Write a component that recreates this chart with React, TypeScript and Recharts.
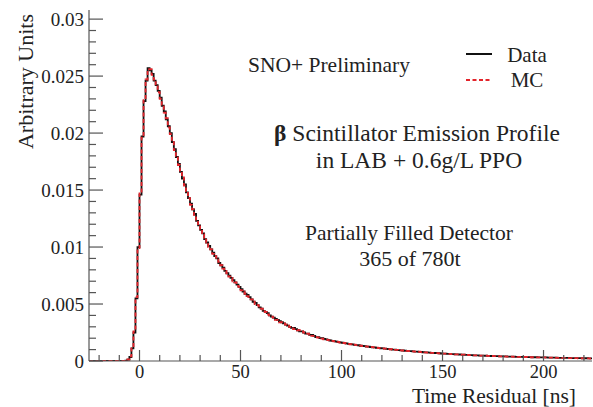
import { ComposedChart, Line, XAxis, YAxis } from 'recharts';

// histogram, 1 ns bins, first bin starts at -25 ns
const BIN_START = -25;

const DATA = [
  0, 0, 0, 0, 0, 0, 0, 0, 0, 0, // -25..-16
  0, 0, 0, 0, 0, 0, 0, 0, 0.00004, 0.00012, // -15..-6
  0.00035, 0.0011, 0.0025, 0.0055, 0.01, 0.0146, 0.0197, 0.0228, 0.0246, 0.0257, // -5..4
  0.0255, 0.0252, 0.0246, 0.0242, 0.0237, 0.0231, 0.0224, 0.0219, 0.0212, 0.0206, // 5..14
  0.02, 0.0192, 0.0186, 0.0179, 0.0173, 0.0166, 0.016, 0.0155, 0.0148, 0.0143, // 15..24
  0.0138, 0.0133, 0.0129, 0.0123, 0.0119, 0.0115, 0.0112, 0.0107, 0.0104, 0.0101, // 25..34
  0.0098, 0.0095, 0.0092, 0.009, 0.0086, 0.0084, 0.0082, 0.0079, 0.0077, 0.0075, // 35..44
  0.0073, 0.0071, 0.0069, 0.0067, 0.0065, 0.0063, 0.0061, 0.0059, 0.0058, 0.0056, // 45..54
  0.0054, 0.0052, 0.0051, 0.0049, 0.0047, 0.0046, 0.0044, 0.0043, 0.0042, 0.004, // 55..64
  0.0039, 0.0038, 0.0037, 0.0036, 0.0035, 0.0034, 0.0033, 0.0032, 0.0031, 0.003, // 65..74
  0.0029, 0.0029, 0.0028, 0.0027, 0.0026, 0.0026, 0.0025, 0.0024, 0.0024, 0.0023, // 75..84
  0.0023, 0.0022, 0.0021, 0.0021, 0.002, 0.002, 0.00195, 0.0019, 0.00186, 0.0018, // 85..94
  0.00177, 0.00174, 0.0017, 0.00165, 0.00163, 0.0016, 0.00157, 0.00155, 0.0015, 0.00148, // 95..104
  0.00146, 0.00142, 0.0014, 0.00138, 0.00134, 0.00132, 0.0013, 0.00127, 0.00126, 0.00122, // 105..114
  0.0012, 0.00119, 0.00116, 0.00114, 0.00112, 0.0011, 0.00109, 0.00106, 0.00104, 0.00102, // 115..124
  0.001, 0.00099, 0.00097, 0.00095, 0.00094, 0.00092, 0.0009, 0.00089, 0.00087, 0.00086, // 125..134
  0.00084, 0.00083, 0.00082, 0.0008, 0.00079, 0.00077, 0.00076, 0.00075, 0.00074, 0.00072, // 135..144
  0.00071, 0.0007, 0.00069, 0.00068, 0.00066, 0.00065, 0.00064, 0.00063, 0.00062, 0.00061, // 145..154
  0.0006, 0.00059, 0.00058, 0.00057, 0.00056, 0.00055, 0.00054, 0.00053, 0.00052, 0.00051, // 155..164
  0.0005, 0.0005, 0.00049, 0.00048, 0.00047, 0.00047, 0.00046, 0.00045, 0.00045, 0.00044, // 165..174
  0.00043, 0.00043, 0.00042, 0.00041, 0.00041, 0.0004, 0.0004, 0.00039, 0.00039, 0.00038, // 175..184
  0.00038, 0.00037, 0.00037, 0.00036, 0.00036, 0.00035, 0.00035, 0.00034, 0.00034, 0.00033, // 185..194
  0.00033, 0.00033, 0.00032, 0.00032, 0.00031, 0.00031, 0.00031, 0.0003, 0.0003, 0.0003, // 195..204
  0.00029, 0.00029, 0.00028, 0.00028, 0.00028, 0.00027, 0.00027, 0.00027, 0.00026, 0.00026, // 205..214
  0.00026, 0.00025, 0.00025, 0.00025, 0.00024, 0.00024, 0.00024, 0.00023, 0.00023, // 215..223
];

const MC = [
  0, 0, 0, 0, 0, 0, 0, 0, 0, 0, // -25..-16
  0, 0, 0, 0, 0, 0, 0, 0, 0.00003, 0.00013, // -15..-6
  0.0004, 0.0012, 0.0026, 0.0056, 0.0099, 0.0147, 0.0196, 0.0229, 0.0247, 0.0256, // -5..4
  0.0256, 0.0251, 0.0247, 0.0241, 0.0236, 0.023, 0.0225, 0.0218, 0.0213, 0.0205, // 5..14
  0.0199, 0.0193, 0.0185, 0.018, 0.0172, 0.0167, 0.0161, 0.0154, 0.0149, 0.0143, // 15..24
  0.0137, 0.0133, 0.0128, 0.0124, 0.0119, 0.0116, 0.0111, 0.0108, 0.0104, 0.01, // 25..34
  0.0098, 0.0094, 0.0092, 0.0089, 0.0087, 0.0084, 0.0081, 0.0079, 0.0077, 0.0074, // 35..44
  0.0073, 0.007, 0.0069, 0.0066, 0.0065, 0.0062, 0.0061, 0.0059, 0.0057, 0.0056, // 45..54
  0.0054, 0.0053, 0.005, 0.0049, 0.0048, 0.0046, 0.0045, 0.0043, 0.0041, 0.004, // 55..64
  0.0039, 0.0038, 0.0036, 0.0036, 0.0034, 0.0034, 0.0033, 0.0032, 0.0031, 0.003, // 65..74
  0.003, 0.0028, 0.0028, 0.0027, 0.0027, 0.0026, 0.0025, 0.0025, 0.0024, 0.0023, // 75..84
  0.0022, 0.0022, 0.0021, 0.00205, 0.002, 0.00197, 0.0019, 0.00188, 0.00183, 0.00181, // 85..94
  0.00176, 0.00172, 0.00169, 0.00167, 0.00162, 0.00159, 0.00158, 0.00153, 0.00151, 0.00147, // 95..104
  0.00145, 0.00143, 0.00139, 0.00137, 0.00135, 0.00131, 0.00129, 0.00128, 0.00124, 0.00123, // 105..114
  0.00121, 0.00118, 0.00117, 0.00114, 0.00113, 0.00111, 0.00108, 0.00107, 0.00104, 0.00103, // 115..124
  0.00101, 0.00098, 0.00097, 0.00096, 0.00093, 0.00092, 0.00091, 0.00088, 0.00087, 0.00085, // 125..134
  0.00085, 0.00083, 0.00081, 0.00081, 0.00078, 0.00078, 0.00076, 0.00074, 0.00073, 0.00072, // 135..144
  0.00071, 0.00069, 0.00069, 0.00067, 0.00067, 0.00065, 0.00064, 0.00062, 0.00062, 0.0006, // 145..154
  0.0006, 0.00058, 0.00058, 0.00057, 0.00055, 0.00055, 0.00053, 0.00053, 0.00051, 0.00051, // 155..164
  0.0005, 0.00049, 0.00049, 0.00047, 0.00047, 0.00046, 0.00046, 0.00045, 0.00044, 0.00044, // 165..174
  0.00043, 0.00042, 0.00042, 0.00041, 0.0004, 0.0004, 0.00039, 0.00039, 0.00038, 0.00038, // 175..184
  0.00037, 0.00037, 0.00036, 0.00036, 0.00035, 0.00035, 0.00035, 0.00034, 0.00033, 0.00033, // 185..194
  0.00033, 0.00032, 0.00032, 0.00031, 0.00031, 0.00031, 0.0003, 0.0003, 0.00029, 0.00029, // 195..204
  0.00029, 0.00028, 0.00028, 0.00028, 0.00027, 0.00027, 0.00026, 0.00026, 0.00026, 0.00025, // 205..214
  0.00025, 0.00025, 0.00024, 0.00024, 0.00024, 0.00023, 0.00023, 0.00023, 0.00022, // 215..223
];

const X_TICKS = [-20, -10, 0, 10, 20, 30, 40, 50, 60, 70, 80, 90, 100, 110, 120, 130, 140, 150, 160, 170, 180, 190, 200, 210, 220];
const X_LABELS = [0, 50, 100, 150, 200];
const Y_TICKS = [
  0, 0.001, 0.002, 0.003, 0.004, 0.005, 0.006, 0.007, 0.008, 0.009, 0.01,
  0.011, 0.012, 0.013, 0.014, 0.015, 0.016, 0.017, 0.018, 0.019, 0.02,
  0.021, 0.022, 0.023, 0.024, 0.025, 0.026, 0.027, 0.028, 0.029, 0.03,
];
const Y_LABELS = [0, 0.005, 0.01, 0.015, 0.02, 0.025, 0.03];

// step-after rows; one extra point closes the last bin
const rows = DATA.map((v, i) => ({ t: BIN_START + i, data: v, mc: MC[i] }));
rows.push({ t: BIN_START + DATA.length, data: DATA[DATA.length - 1], mc: MC[MC.length - 1] });

const FONT = '"Liberation Serif", "Times New Roman", serif';
const AXIS = '#555';
const INK = '#222';
const RED = '#e3242b';
const X_DOMAIN: [number, number] = [-25, 224];
const Y_DOMAIN: [number, number] = [0, 0.0308];

function BottomTick({ x, y, payload }: any) {
  const major = X_LABELS.includes(payload.value);
  return (
    <g>
      <line x1={x} x2={x} y1={y} y2={y - (major ? 11 : 6)} stroke={AXIS} strokeWidth={1.2} />
      {major && (
        <text x={x} y={y + 17} textAnchor="middle" fontSize={18.5} fontFamily={FONT} fill={INK}>
          {payload.value}
        </text>
      )}
    </g>
  );
}

function TopTick({ x, y, payload }: any) {
  const major = X_LABELS.includes(payload.value);
  return <line x1={x} x2={x} y1={y} y2={y + (major ? 11 : 6)} stroke={AXIS} strokeWidth={1.2} />;
}

function LeftTick({ x, y, payload }: any) {
  const major = Y_LABELS.includes(payload.value);
  return (
    <g>
      <line x1={x} x2={x + (major ? 14 : 7)} y1={y} y2={y} stroke={AXIS} strokeWidth={1.2} />
      {major && (
        <text x={x - 5} y={y + 6.5} textAnchor="end" fontSize={19} fontFamily={FONT} fill={INK}>
          {String(payload.value)}
        </text>
      )}
    </g>
  );
}

function RightTick({ x, y, payload }: any) {
  const major = Y_LABELS.includes(payload.value);
  return <line x1={x} x2={x - (major ? 14 : 7)} y1={y} y2={y} stroke={AXIS} strokeWidth={1.2} />;
}

function Notes() {
  const t = { fontFamily: FONT, fill: INK };
  return (
    <svg width={593} height={407} style={{ position: 'absolute', left: 0, top: 0, pointerEvents: 'none' }}>
      <text {...t} x={329} y={72} fontSize={21.5} textAnchor="middle">SNO+ Preliminary</text>
      <line x1={466} x2={492} y1={54} y2={54} stroke="#111" strokeWidth={2} />
      <text {...t} x={527} y={62} fontSize={21} textAnchor="middle">Data</text>
      <line x1={466} x2={492} y1={80} y2={80} stroke={RED} strokeWidth={2} strokeDasharray="4 2.5" />
      <text {...t} x={527} y={87} fontSize={21} textAnchor="middle">MC</text>
      <text {...t} x={417} y={141} fontSize={23.5} textAnchor="middle">
        <tspan fontWeight="bold">β</tspan> Scintillator Emission Profile
      </text>
      <text {...t} x={419} y={168} fontSize={23.5} textAnchor="middle">in LAB + 0.6g/L PPO</text>
      <text {...t} x={409} y={240} fontSize={21.5} textAnchor="middle">Partially Filled Detector</text>
      <text {...t} x={410} y={266} fontSize={22} textAnchor="middle">365 of 780t</text>
      <text {...t} x={576} y={403} fontSize={21.5} textAnchor="end">Time Residual [ns]</text>
      <text {...t} x={33} y={14} fontSize={22} textAnchor="end" transform="rotate(-90 33 14)">Arbitrary Units</text>
    </svg>
  );
}

export default function App() {
  return (
    <div style={{ position: 'absolute', left: 0, top: 0, width: 593, height: 407, background: '#fff' }}>
      <ComposedChart width={593} height={407} data={rows} margin={{ top: 10, right: 1, left: 0, bottom: 0 }}>
        <XAxis xAxisId="b" dataKey="t" type="number" domain={X_DOMAIN} allowDataOverflow ticks={X_TICKS}
          interval={0} height={46} tickLine={false} tickSize={0} tickMargin={0} tick={BottomTick}
          axisLine={{ stroke: AXIS, strokeWidth: 1.2 }} />
        <XAxis xAxisId="t" orientation="top" dataKey="t" type="number" domain={X_DOMAIN} allowDataOverflow
          ticks={X_TICKS} interval={0} height={0} tickLine={false} tickSize={0} tickMargin={0} tick={TopTick}
          axisLine={{ stroke: AXIS, strokeWidth: 1.2 }} />
        <YAxis yAxisId="l" type="number" domain={Y_DOMAIN} allowDataOverflow ticks={Y_TICKS} interval={0}
          width={89} tickLine={false} tickSize={0} tickMargin={0} tick={LeftTick}
          axisLine={{ stroke: AXIS, strokeWidth: 1.2 }} />
        <YAxis yAxisId="r" orientation="right" type="number" domain={Y_DOMAIN} allowDataOverflow ticks={Y_TICKS}
          interval={0} width={0} tickLine={false} tickSize={0} tickMargin={0} tick={RightTick}
          axisLine={{ stroke: AXIS, strokeWidth: 1.2 }} />
        <Line xAxisId="b" yAxisId="l" dataKey="data" type="stepAfter" stroke="#111" strokeWidth={1.8}
          dot={false} isAnimationActive={false} />
        <Line xAxisId="b" yAxisId="l" dataKey="mc" type="stepAfter" stroke={RED} strokeWidth={1.8}
          strokeDasharray="4 2.5" dot={false} isAnimationActive={false} />
      </ComposedChart>
      <Notes />
    </div>
  );
}
